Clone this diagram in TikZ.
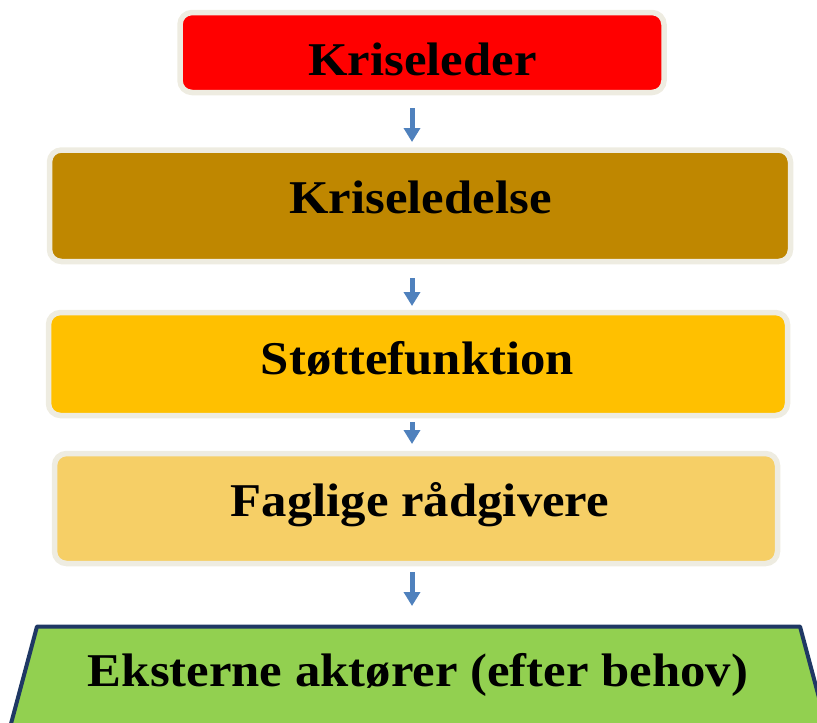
\documentclass[tikz,border=0pt]{standalone}
\usepackage{fontspec}
\setmainfont{Liberation Serif}[FakeStretch=1.08]
\usetikzlibrary{arrows.meta}
\definecolor{boxborder}{HTML}{EEECE1}
\definecolor{cred}{HTML}{FF0000}
\definecolor{cbrown}{HTML}{BF8700}
\definecolor{camber}{HTML}{FFC000}
\definecolor{clight}{HTML}{F6CF66}
\definecolor{cgreen}{HTML}{92D050}
\definecolor{cnavy}{HTML}{1F3864}
\definecolor{carrow}{HTML}{4F81BD}
\tikzset{
  lvl/.style={draw=boxborder, line width=5.5pt, rounded corners=12pt},
  lbl/.style={anchor=base, font=\fontsize{47}{50}\selectfont\bfseries, inner sep=0pt},
  flow/.style={carrow, line width=5pt, -{Triangle[width=16pt,length=14pt]}}
}
\begin{document}
\begin{tikzpicture}[x=1pt,y=-1pt]
\useasboundingbox (0,0) rectangle (817,723);
\clip (0,0) rectangle (817,723);
% boxes
\draw[lvl, fill=cred]   (180,12.5)  rectangle (664,92.5);
\draw[lvl, fill=cbrown] (49.5,150)  rectangle (790.5,261.5);
\draw[lvl, fill=camber] (48.5,312.5) rectangle (787.5,415.5);
\draw[lvl, fill=clight] (54.5,453.5) rectangle (777.5,563.5);
\draw[draw=cnavy, line width=4pt, fill=cgreen, line join=round]
  (8,735) -- (37,626.5) -- (800,626.5) -- (829,735) -- cycle;
% labels
\node[lbl] (k1) at (422.5,75) {Kriseleder};
\node[lbl] (k2) at (420.5,213) {Kriseledelse};
\node[lbl] (k3) at (417.5,374) {Støttefunktion};
\node[lbl] (k4) at (420,516) {Faglige rådgivere};
\node[lbl] (k5) at (418,686) {Eksterne aktører (efter behov)};
% arrows
\coordinate (a1s) at (412,108); \coordinate (a1e) at (412,142);
\coordinate (a2s) at (412,278); \coordinate (a2e) at (412,306);
\coordinate (a3s) at (412,422); \coordinate (a3e) at (412,444);
\coordinate (a4s) at (412,572); \coordinate (a4e) at (412,606);
\draw[flow] (a1s) -- (a1e);
\draw[flow] (a2s) -- (a2e);
\draw[flow] (a3s) -- (a3e);
\draw[flow] (a4s) -- (a4e);
\end{tikzpicture}
\end{document}
